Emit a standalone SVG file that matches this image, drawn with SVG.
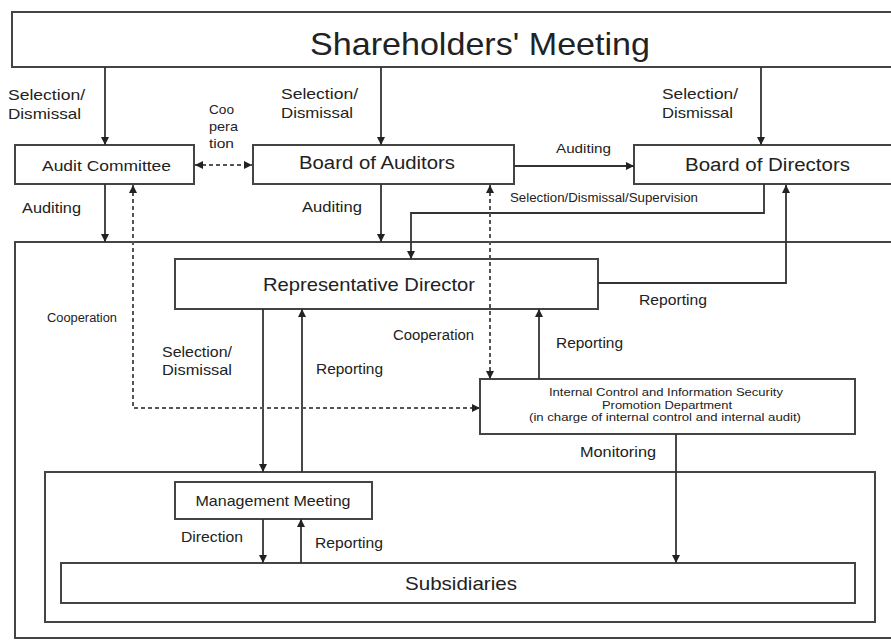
<svg xmlns="http://www.w3.org/2000/svg" width="891" height="641" viewBox="0 0 891 641">
<defs>
<marker id="ah" viewBox="0 0 8 8" refX="8" refY="4" markerWidth="8" markerHeight="8" markerUnits="userSpaceOnUse" orient="auto-start-reverse">
<path d="M0,0 L8,4 L0,8 z" fill="#222"/>
</marker>
</defs>
<style>
.box{fill:#fff;stroke:#444;stroke-width:2}
.frame{fill:none;stroke:#444;stroke-width:2}
.ln{fill:none;stroke:#333;stroke-width:1.8}
.dash{fill:none;stroke:#555;stroke-width:2;stroke-dasharray:4 3}
text{font-family:"Liberation Sans","Noto Sans",sans-serif;fill:#222}
.c{text-anchor:middle}
</style>
<rect width="891" height="641" fill="#fff"/>

<g id="outer-group">
<rect class="frame" x="15" y="242" width="900" height="396"/>
</g>
<g id="inner-group">
<rect class="frame" x="45" y="472" width="830" height="150"/>
</g>

<g id="shareholders">
<rect class="box" x="12" y="12" width="900" height="55"/>
<text class="c" x="480" y="55" font-size="32" textLength="340" lengthAdjust="spacingAndGlyphs">Shareholders' Meeting</text>
</g>

<g id="audit-committee">
<rect class="box" x="15" y="145" width="179" height="39"/>
<text class="c" x="106.5" y="171" font-size="15" textLength="129" lengthAdjust="spacingAndGlyphs">Audit Committee</text>
</g>

<g id="board-of-auditors">
<rect class="box" x="253" y="145" width="261" height="39"/>
<text class="c" x="377" y="169" font-size="18" textLength="156" lengthAdjust="spacingAndGlyphs">Board of Auditors</text>
</g>

<g id="board-of-directors">
<rect class="box" x="634" y="145" width="280" height="39"/>
<text class="c" x="767.5" y="171" font-size="18" textLength="165" lengthAdjust="spacingAndGlyphs">Board of Directors</text>
</g>

<g id="representative-director">
<rect class="box" x="175" y="259" width="423" height="50"/>
<text class="c" x="369" y="291" font-size="19" textLength="212" lengthAdjust="spacingAndGlyphs">Representative Director</text>
</g>

<g id="internal-control">
<rect class="box" x="480" y="379" width="375" height="55"/>
<text class="c" x="666" y="396" font-size="11" textLength="234" lengthAdjust="spacingAndGlyphs">Internal Control and Information Security</text>
<text class="c" x="667" y="408.5" font-size="11" textLength="130" lengthAdjust="spacingAndGlyphs">Promotion Department</text>
<text class="c" x="665" y="421" font-size="11" textLength="272" lengthAdjust="spacingAndGlyphs">(in charge of internal control and internal audit)</text>
</g>

<g id="management-meeting">
<rect class="box" x="175" y="482" width="197" height="37"/>
<text class="c" x="273" y="506" font-size="15" textLength="155" lengthAdjust="spacingAndGlyphs">Management Meeting</text>
</g>

<g id="subsidiaries">
<rect class="box" x="61" y="563" width="794" height="40"/>
<text class="c" x="461" y="590" font-size="19" textLength="112" lengthAdjust="spacingAndGlyphs">Subsidiaries</text>
</g>

<g id="connectors">
<line class="ln" x1="105" y1="67" x2="105" y2="145" marker-end="url(#ah)"/>
<line class="ln" x1="381" y1="67" x2="381" y2="145" marker-end="url(#ah)"/>
<line class="ln" x1="761" y1="67" x2="761" y2="145" marker-end="url(#ah)"/>
<line class="ln" x1="105" y1="184" x2="105" y2="242" marker-end="url(#ah)"/>
<line class="ln" x1="381" y1="184" x2="381" y2="242" marker-end="url(#ah)"/>
<line class="ln" x1="514" y1="166" x2="634" y2="166" marker-end="url(#ah)"/>
<polyline class="ln" points="764,184 764,213 411,213 411,259" marker-end="url(#ah)"/>
<polyline class="ln" points="598,283 786,283 786,185" marker-end="url(#ah)"/>
<line class="ln" x1="263" y1="309" x2="263" y2="472" marker-end="url(#ah)"/>
<line class="ln" x1="302" y1="472" x2="302" y2="309" marker-end="url(#ah)"/>
<line class="ln" x1="539" y1="379" x2="539" y2="309" marker-end="url(#ah)"/>
<line class="ln" x1="676" y1="434" x2="676" y2="563" marker-end="url(#ah)"/>
<line class="ln" x1="263" y1="519" x2="263" y2="563" marker-end="url(#ah)"/>
<line class="ln" x1="301" y1="563" x2="301" y2="519" marker-end="url(#ah)"/>
<line class="dash" x1="195" y1="165" x2="252" y2="165" marker-start="url(#ah)" marker-end="url(#ah)"/>
<polyline class="dash" points="133,185 133,408 480,408" marker-start="url(#ah)" marker-end="url(#ah)"/>
<line class="dash" x1="490" y1="185" x2="490" y2="379" marker-start="url(#ah)" marker-end="url(#ah)"/>
</g>

<g id="labels">
<text x="8" y="100" font-size="15" textLength="77" lengthAdjust="spacingAndGlyphs">Selection/</text>
<text x="8" y="119" font-size="15" textLength="73" lengthAdjust="spacingAndGlyphs">Dismissal</text>
<text x="281" y="99" font-size="15" textLength="77" lengthAdjust="spacingAndGlyphs">Selection/</text>
<text x="281" y="118" font-size="15" textLength="72" lengthAdjust="spacingAndGlyphs">Dismissal</text>
<text x="662" y="99" font-size="15" textLength="76" lengthAdjust="spacingAndGlyphs">Selection/</text>
<text x="662" y="118" font-size="15" textLength="71" lengthAdjust="spacingAndGlyphs">Dismissal</text>
<text x="209" y="114" font-size="13" textLength="25" lengthAdjust="spacingAndGlyphs">Coo</text>
<text x="209" y="131" font-size="13" textLength="29" lengthAdjust="spacingAndGlyphs">pera</text>
<text x="209" y="148" font-size="13" textLength="25" lengthAdjust="spacingAndGlyphs">tion</text>
<text x="22" y="213" font-size="14" textLength="59" lengthAdjust="spacingAndGlyphs">Auditing</text>
<text x="302" y="212" font-size="14" textLength="60" lengthAdjust="spacingAndGlyphs">Auditing</text>
<text x="556" y="153" font-size="13" textLength="55" lengthAdjust="spacingAndGlyphs">Auditing</text>
<text x="510" y="202" font-size="12" textLength="188" lengthAdjust="spacingAndGlyphs">Selection/Dismissal/Supervision</text>
<text x="639" y="305" font-size="14.5" textLength="68" lengthAdjust="spacingAndGlyphs">Reporting</text>
<text x="47" y="322" font-size="12" textLength="70" lengthAdjust="spacingAndGlyphs">Cooperation</text>
<text x="162" y="357" font-size="14.5" textLength="70" lengthAdjust="spacingAndGlyphs">Selection/</text>
<text x="162" y="375" font-size="14.5" textLength="70" lengthAdjust="spacingAndGlyphs">Dismissal</text>
<text x="316" y="374" font-size="14.5" textLength="67" lengthAdjust="spacingAndGlyphs">Reporting</text>
<text x="393" y="340" font-size="14" textLength="81" lengthAdjust="spacingAndGlyphs">Cooperation</text>
<text x="556" y="348" font-size="14.5" textLength="67" lengthAdjust="spacingAndGlyphs">Reporting</text>
<text x="580" y="457" font-size="14.5" textLength="76" lengthAdjust="spacingAndGlyphs">Monitoring</text>
<text x="181" y="542" font-size="14.5" textLength="62" lengthAdjust="spacingAndGlyphs">Direction</text>
<text x="315" y="548" font-size="14.5" textLength="68" lengthAdjust="spacingAndGlyphs">Reporting</text>
</g>
</svg>
